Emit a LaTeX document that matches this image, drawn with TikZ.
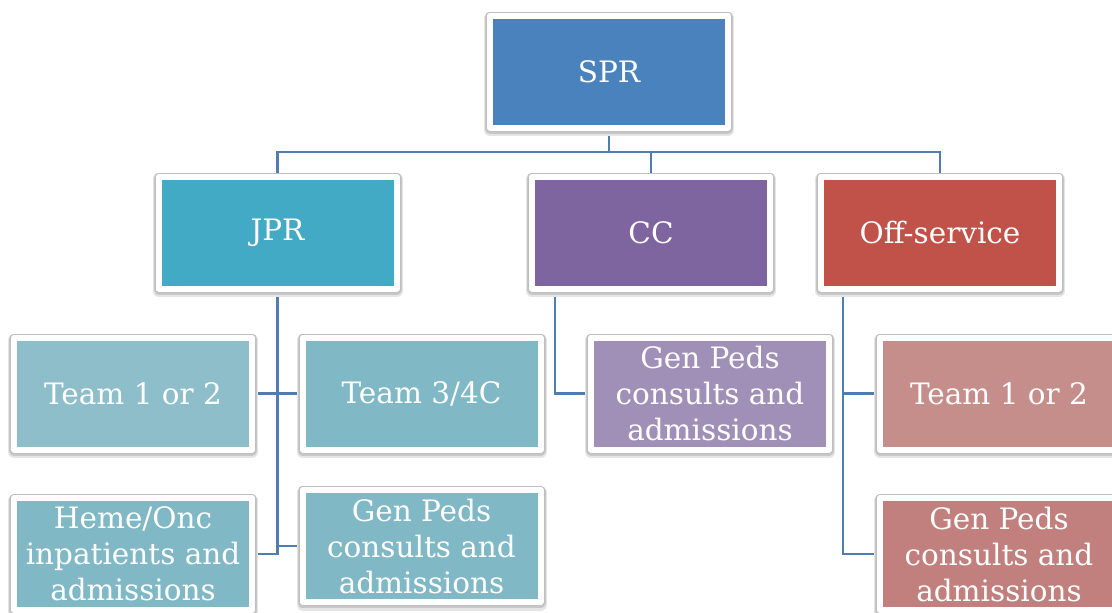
\documentclass[tikz,border=0pt]{standalone}
\usepackage{fontspec}
\setmainfont{DejaVu Serif}
\usetikzlibrary{backgrounds}
\definecolor{conncol}{RGB}{79,125,178}
\definecolor{cspr}{RGB}{74,130,189}
\definecolor{cjpr}{RGB}{67,170,198}
\definecolor{ccc}{RGB}{127,101,160}
\definecolor{coff}{RGB}{193,82,74}
\definecolor{cjl1}{RGB}{142,190,202}
\definecolor{cjl2}{RGB}{128,184,198}
\definecolor{ccl}{RGB}{160,144,183}
\definecolor{cofl1}{RGB}{198,142,139}
\definecolor{cofl2}{RGB}{193,128,125}
\tikzset{
  orgbox/.style={fill=#1, draw=white, line width=6pt, line join=round,
    preaction={draw=black!10, line width=12pt, line join=round, transform canvas={yshift=-2.5pt}},
    preaction={draw=black!22, line width=10pt, line join=round, transform canvas={yshift=-1.2pt}},
    preaction={draw=black!25, line width=8pt, line join=round},
    minimum width=238pt, minimum height=112pt, inner sep=0pt,
    text=white, align=center, font=\fontsize{29.5}{36}\selectfont},
  conn/.style={draw=conncol, line width=2.4pt}
}
\begin{document}
\begin{tikzpicture}[x=1pt,y=-1pt]
\useasboundingbox (0,0) rectangle (1112,613);
\node[orgbox=cspr] (spr) at (609,71.5) {SPR};
\node[orgbox=cjpr] (jpr) at (277.5,232.5) {JPR};
\node[orgbox=ccc] (cc) at (651,232.5) {CC};
\node[orgbox=coff] (off) at (940,232.5) {Off-service};
\node[orgbox=cjl1] (t1l) at (133,393.5) {Team 1 or 2};
\node[orgbox=cjl2] (t34) at (421.5,393.5) {Team 3/4C};
\node[orgbox=ccl] (gpc) at (710,393.5) {Gen Peds\\consults and\\admissions};
\node[orgbox=cofl1] (t1r) at (999,393.5) {Team 1 or 2};
\node[orgbox=cjl2] (heme) at (133,554) {Heme/Onc\\inpatients and\\admissions};
\node[orgbox=cjl2] (gpj) at (421.5,546) {Gen Peds\\consults and\\admissions};
\node[orgbox=cofl2] (gpo) at (999,554) {Gen Peds\\consults and\\admissions};
\coordinate (bus) at (0,152);
\begin{scope}[on background layer]
\draw[conn] (spr.south) -- (spr.south |- bus) -| (jpr.north);
\draw[conn] (spr.south) -- (spr.south |- bus) -| (cc.north);
\draw[conn] (spr.south) -- (spr.south |- bus) -| (off.north);
\draw[conn] (jpr.south) |- (t1l.east);
\draw[conn] (jpr.south) |- (t34.west);
\draw[conn] (jpr.south) |- (heme.east);
\draw[conn] (jpr.south) |- (gpj.west);
\draw[conn] ([xshift=-96pt]cc.south) |- (gpc.west);
\draw[conn] ([xshift=-97pt]off.south) |- (t1r.west);
\draw[conn] ([xshift=-97pt]off.south) |- (gpo.west);
\end{scope}
\end{tikzpicture}
\end{document}
